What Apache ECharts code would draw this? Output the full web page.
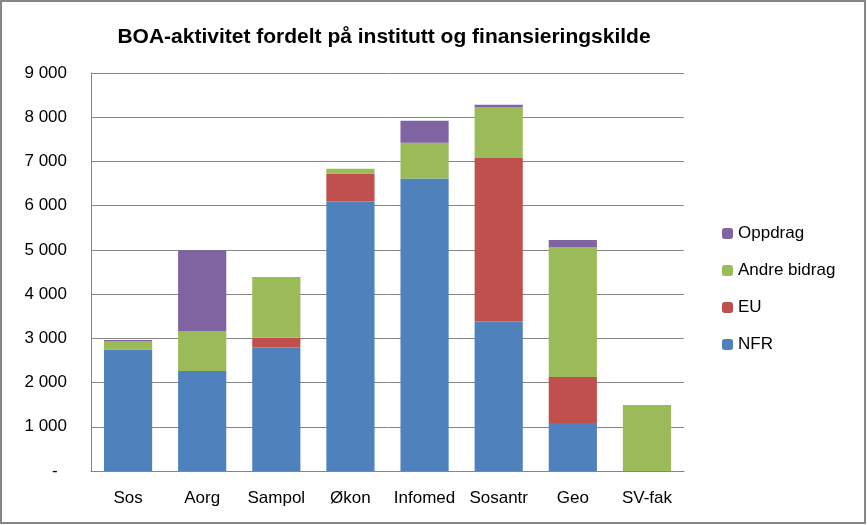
<!DOCTYPE html>
<html>
<head>
<meta charset="utf-8">
<script src="https://cdn.jsdelivr.net/npm/echarts@6/dist/echarts.min.js"></script>
<style>
  html, body { margin: 0; padding: 0; background: #fff; }
  #chart { width: 867px; height: 525px; }
</style>
</head>
<body>
<div id="chart"></div>
<script>
// BOA-aktivitet per institutt, stablet per finansieringskilde
var institutter = ['Sos', 'Aorg', 'Sampol', 'Økon', 'Infomed', 'Sosantr', 'Geo', 'SV-fak'];
var nfr = [2745, 2260, 2790, 6095, 6615, 3380, 1085, 0];
var eu = [0, 0, 225, 635, 0, 3700, 1040, 0];
var andreBidrag = [195, 905, 1370, 105, 805, 1140, 2940, 1495];
var oppdrag = [25, 1825, 0, 0, 500, 60, 160, 0];

var font = '"Liberation Sans", Arial, sans-serif';

var myChart = echarts.init(document.getElementById('chart'));
myChart.setOption({
    animation: false,
    textStyle: { fontFamily: font },
    color: ['#4f81bd', '#c0504d', '#9bbb59', '#8064a2'],
    title: {
        text: 'BOA-aktivitet fordelt på institutt og finansieringskilde',
        left: 379,
        textAlign: 'center',
        top: 22,
        textStyle: { fontSize: 21, fontWeight: 'bold', color: '#000', fontFamily: font }
    },
    graphic: [{
        type: 'rect',
        shape: { x: 1, y: 1, width: 864, height: 522 },
        style: { fill: 'none', stroke: '#868686', lineWidth: 2 },
        silent: true
    }],
    legend: {
        orient: 'vertical',
        left: 717,
        top: 220,
        itemWidth: 11,
        itemHeight: 11,
        itemGap: 20,
        data: ['Oppdrag', 'Andre bidrag', 'EU', 'NFR'],
        textStyle: { fontSize: 17, color: '#000', fontFamily: font }
    },
    grid: {
        left: 91,
        right: 183,
        top: 73,
        bottom: 54,
        containLabel: false
    },
    xAxis: {
        type: 'category',
        data: institutter,
        axisLine: { lineStyle: { color: '#868686', width: 1 } },
        axisTick: { show: false },
        axisLabel: { color: '#000', fontSize: 17, margin: 19, interval: 0, fontFamily: font }
    },
    yAxis: {
        type: 'value',
        min: 0,
        max: 9000,
        interval: 1000,
        axisLine: { show: true, lineStyle: { color: '#868686', width: 1 } },
        axisTick: { show: false },
        splitLine: { lineStyle: { color: '#868686', width: 1 } },
        axisLabel: {
            color: '#000',
            fontSize: 17,
            margin: 24,
            fontFamily: font,
            formatter: function (v) {
                if (v === 0) return '-  ';
                return String(v).replace(/\B(?=(\d{3})+(?!\d))/g, ' ');
            }
        }
    },
    series: [
        { name: 'NFR', type: 'bar', stack: 'boa', barWidth: '65%', data: nfr },
        { name: 'EU', type: 'bar', stack: 'boa', data: eu },
        { name: 'Andre bidrag', type: 'bar', stack: 'boa', data: andreBidrag },
        { name: 'Oppdrag', type: 'bar', stack: 'boa', data: oppdrag }
    ]
});
</script>
</body>
</html>
